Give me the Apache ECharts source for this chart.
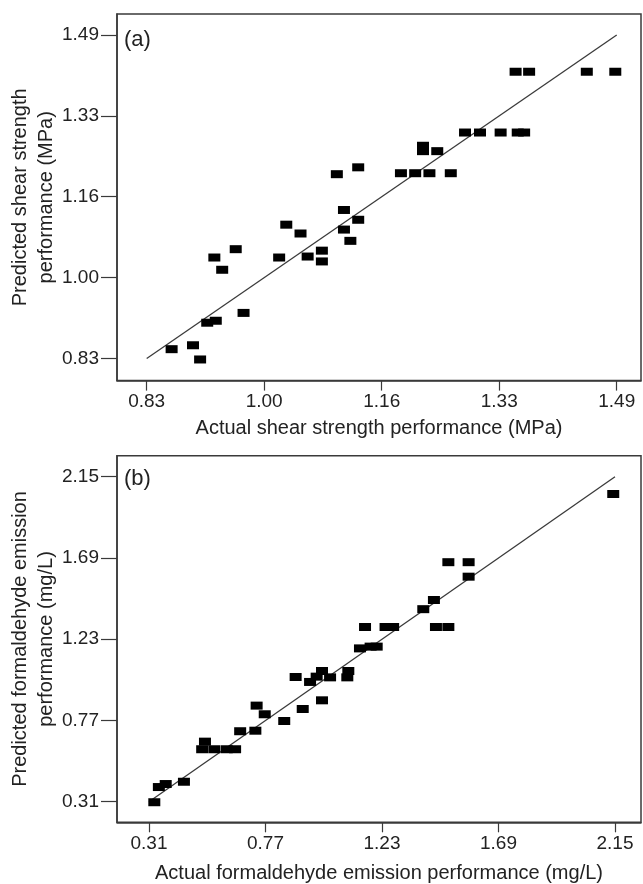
<!DOCTYPE html>
<html><head><meta charset="utf-8">
<script src="https://cdn.jsdelivr.net/npm/echarts@6/dist/echarts.min.js"></script>
<style>html,body{margin:0;padding:0;background:#fff}#c{width:643px;height:884px}</style>
</head><body><div id="c"></div>
<script>
// Panel (a): shear strength
const actualA = [0.865,0.895,0.905,0.915,0.927,0.925,0.936,0.955,0.966,1.016,1.026,1.046,1.056,1.076,1.076,1.107,1.107,1.116,1.127,1.097,1.127,1.187,1.207,1.227,1.257,1.218,1.218,1.238,1.277,1.298,1.327,1.351,1.360,1.348,1.367,1.448,1.488];
const predictedA = [0.849,0.857,0.828,0.903,0.907,1.036,1.011,1.053,0.923,1.036,1.103,1.085,1.038,1.050,1.028,1.133,1.093,1.070,1.113,1.206,1.220,1.208,1.208,1.208,1.208,1.264,1.253,1.253,1.291,1.291,1.291,1.291,1.291,1.415,1.415,1.415,1.415];
// Panel (b): formaldehyde emission
const actualB = [0.331,0.349,0.376,0.448,0.531,0.520,0.568,0.617,0.650,0.670,0.730,0.735,0.767,0.844,0.889,0.917,0.946,0.972,0.993,0.993,1.025,1.097,1.093,1.143,1.163,1.185,1.209,1.244,1.274,1.443,1.492,1.393,1.435,1.492,1.572,1.572,2.143];
const predictedB = [0.307,0.393,0.410,0.423,0.650,0.607,0.607,0.607,0.607,0.709,0.712,0.854,0.805,0.767,1.016,0.835,0.988,1.018,1.050,0.884,1.014,1.050,1.014,1.178,1.299,1.188,1.188,1.299,1.299,1.299,1.299,1.400,1.452,1.666,1.666,1.584,2.052];
// Tick values and labels
const tickValuesA = [0.83, 0.995, 1.16, 1.325, 1.49];
const tickLabelsA = ['0.83','1.00','1.16','1.33','1.49'];
const tickValuesB = [0.31, 0.77, 1.23, 1.69, 2.15];
const tickLabelsB = ['0.31','0.77','1.23','1.69','2.15'];
// Reference y = x lines
const refLineA = [0.83, 1.49];
const refLineB = [0.31, 2.15];

const FONT = "'Liberation Sans', Arial, sans-serif";
const TXT = '#222';
const LINE = '#3a3a3a';

function fmt(vals, labels){
  return function(v){
    for (let i=0;i<vals.length;i++){ if (Math.abs(vals[i]-v)<1e-6) return labels[i]; }
    return '';
  };
}
function xAx(gi, min, max, vals, labels, name, gap){
  return {
    type:'value', gridIndex:gi, min:min, max:max,
    name:name, nameLocation:'middle', nameGap:gap, nameMoveOverlap:false,
    nameTextStyle:{fontFamily:FONT, fontSize:20, color:TXT},
    axisLine:{show:true, lineStyle:{color:LINE, width:1.5}},
    axisTick:{show:true, length:10, lineStyle:{color:LINE, width:1.2}, customValues:vals},
    axisLabel:{show:true, margin:12, fontFamily:FONT, fontSize:19, color:TXT, customValues:vals, formatter:fmt(vals,labels)},
    splitLine:{show:false}
  };
}
function yAx(gi, min, max, vals, labels, name, gap){
  return {
    type:'value', gridIndex:gi, min:min, max:max,
    name:name, nameLocation:'middle', nameGap:gap, nameRotate:90, nameMoveOverlap:false,
    nameTextStyle:{fontFamily:FONT, fontSize:20, color:TXT, lineHeight:26},
    axisLine:{show:true, lineStyle:{color:LINE, width:1.5}},
    axisTick:{show:true, length:16, lineStyle:{color:LINE, width:1.2}, customValues:vals},
    axisLabel:{show:true, margin:18, fontFamily:FONT, fontSize:19, color:TXT, customValues:vals, formatter:fmt(vals,labels)},
    splitLine:{show:false}
  };
}
function pts(xs, ys){ return xs.map((x,i)=>[x, ys[i]]); }

const chart = echarts.init(document.getElementById('c'), null, {renderer:'canvas'});
chart.setOption({
  backgroundColor:'#fff',
  animation:false,
  grid:[
    {left:117, top:14, width:524, height:366.6, show:true, borderColor:LINE, borderWidth:1.5, containLabel:false, outerBoundsMode:'none'},
    {left:117, top:455.7, width:524, height:366.6, show:true, borderColor:LINE, borderWidth:1.5, containLabel:false, outerBoundsMode:'none'}
  ],
  xAxis:[
    xAx(0, 0.7883, 1.5241, tickValuesA, tickLabelsA, 'Actual shear strength performance (MPa)', 38),
    xAx(1, 0.1837, 2.2526, tickValuesB, tickLabelsB, 'Actual formaldehyde emission performance (mg/L)', 41)
  ],
  yAxis:[
    yAx(0, 0.7849, 1.5328, tickValuesA, tickLabelsA, 'Predicted shear strength\nperformance (MPa)', 58),
    yAx(1, 0.1934, 2.2689, tickValuesB, tickLabelsB, 'Predicted formaldehyde emission\nperformance (mg/L)', 58)
  ],
  graphic:[
    {type:'text', left:124, top:29, style:{text:'(a)', font:"22px 'Liberation Sans', Arial, sans-serif", fill:TXT}},
    {type:'text', left:124, top:468, style:{text:'(b)', font:"22px 'Liberation Sans', Arial, sans-serif", fill:TXT}}
  ],
  series:[
    {type:'line', xAxisIndex:0, yAxisIndex:0, data:pts(refLineA, refLineA), symbol:'none', lineStyle:{color:LINE, width:1.3}, silent:true, z:1},
    {type:'scatter', xAxisIndex:0, yAxisIndex:0, data:pts(actualA, predictedA), symbol:'rect', symbolSize:[12,8], itemStyle:{color:'#000', opacity:1}, z:2},
    {type:'line', xAxisIndex:1, yAxisIndex:1, data:pts(refLineB, refLineB), symbol:'none', lineStyle:{color:LINE, width:1.3}, silent:true, z:1},
    {type:'scatter', xAxisIndex:1, yAxisIndex:1, data:pts(actualB, predictedB), symbol:'rect', symbolSize:[12,8], itemStyle:{color:'#000', opacity:1}, z:2}
  ]
});
</script>
</body></html>
